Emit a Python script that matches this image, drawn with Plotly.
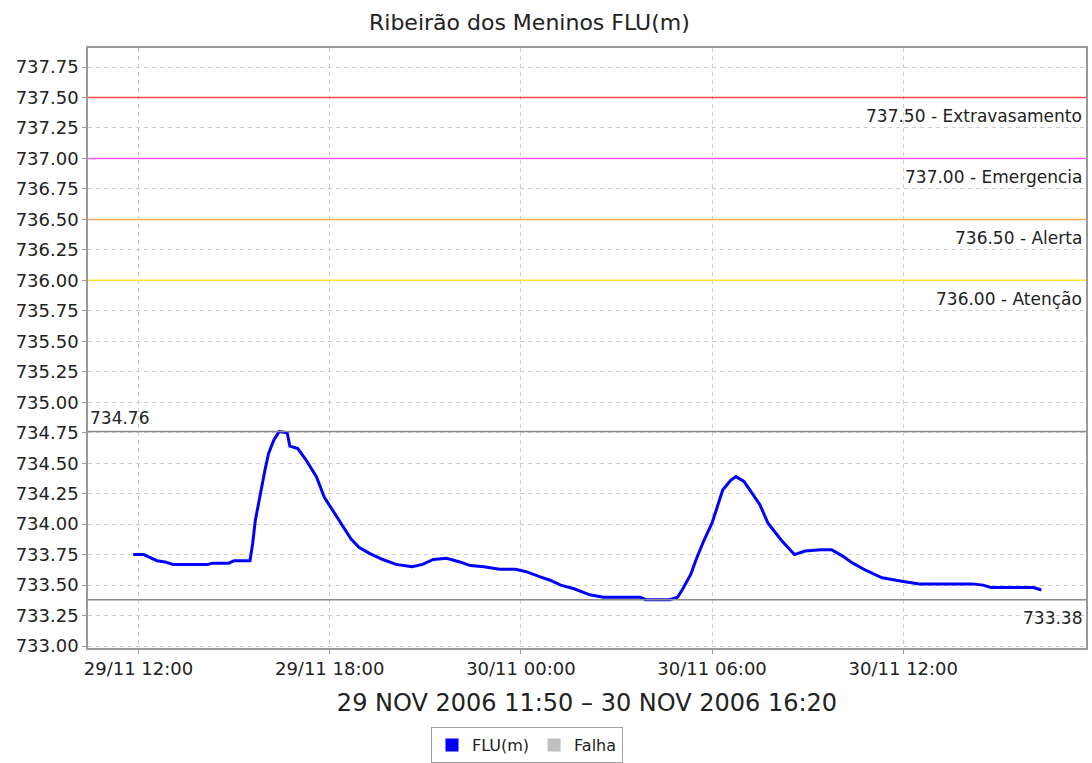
import plotly.graph_objects as go

# ---- data ----
times = [
    "2006-11-29 11:50", "2006-11-29 12:10", "2006-11-29 12:20", "2006-11-29 12:35",
    "2006-11-29 12:50", "2006-11-29 13:05", "2006-11-29 14:10", "2006-11-29 14:20",
    "2006-11-29 14:50", "2006-11-29 15:00", "2006-11-29 15:30", "2006-11-29 15:35",
    "2006-11-29 15:40", "2006-11-29 15:49", "2006-11-29 15:58", "2006-11-29 16:05",
    "2006-11-29 16:15", "2006-11-29 16:25", "2006-11-29 16:40", "2006-11-29 16:45",
    "2006-11-29 17:00", "2006-11-29 17:15", "2006-11-29 17:35", "2006-11-29 17:50",
    "2006-11-29 18:05", "2006-11-29 18:25", "2006-11-29 18:40", "2006-11-29 18:55",
    "2006-11-29 19:15", "2006-11-29 19:40", "2006-11-29 20:05", "2006-11-29 20:35",
    "2006-11-29 20:55", "2006-11-29 21:15", "2006-11-29 21:40", "2006-11-29 22:05",
    "2006-11-29 22:25", "2006-11-29 22:50", "2006-11-29 23:20", "2006-11-29 23:50",
    "2006-11-30 00:10", "2006-11-30 00:35", "2006-11-30 00:55", "2006-11-30 01:15",
    "2006-11-30 01:40", "2006-11-30 02:10", "2006-11-30 02:35", "2006-11-30 03:45",
    "2006-11-30 03:55", "2006-11-30 04:40", "2006-11-30 04:55", "2006-11-30 05:05",
    "2006-11-30 05:20", "2006-11-30 05:30", "2006-11-30 05:45", "2006-11-30 06:00",
    "2006-11-30 06:10", "2006-11-30 06:20", "2006-11-30 06:35", "2006-11-30 06:45",
    "2006-11-30 07:00", "2006-11-30 07:15", "2006-11-30 07:30", "2006-11-30 07:45",
    "2006-11-30 08:10", "2006-11-30 08:35", "2006-11-30 08:55", "2006-11-30 09:25",
    "2006-11-30 09:45", "2006-11-30 10:05", "2006-11-30 10:25", "2006-11-30 10:50",
    "2006-11-30 11:20", "2006-11-30 12:00", "2006-11-30 12:30", "2006-11-30 14:10",
    "2006-11-30 14:30", "2006-11-30 14:45", "2006-11-30 16:05", "2006-11-30 16:20",
]
flu = [
    733.75, 733.75, 733.73, 733.70,
    733.69, 733.67, 733.67, 733.68,
    733.68, 733.70, 733.70, 733.84,
    734.03, 734.25, 734.44, 734.58,
    734.69, 734.76, 734.75, 734.64,
    734.62, 734.53, 734.39, 734.22,
    734.12, 733.98, 733.88, 733.81,
    733.76, 733.71, 733.67, 733.65,
    733.67, 733.71, 733.72, 733.69,
    733.66, 733.65, 733.63, 733.63,
    733.61, 733.57, 733.54, 733.50,
    733.47, 733.42, 733.40, 733.40,
    733.38, 733.38, 733.40, 733.47,
    733.59, 733.71, 733.87, 734.01,
    734.14, 734.28, 734.36, 734.39,
    734.35, 734.25, 734.16, 734.01,
    733.87, 733.75, 733.78, 733.79,
    733.79, 733.74, 733.68, 733.62,
    733.56, 733.53, 733.51, 733.51,
    733.50, 733.48, 733.48, 733.46,
]

level_values = [737.50, 737.00, 736.50, 736.00]
level_names = ["Extravasamento", "Emergencia", "Alerta", "Atenção"]
level_colors = ["#ff4a4a", "#ff55ff", "#ffa860", "#ffe030"]

max_value = 734.76
min_value = 733.38

title_text = "Ribeirão dos Meninos FLU(m)"
xaxis_title = "29 NOV 2006 11:50 \u2013 30 NOV 2006 16:20"
legend_names = ["FLU(m)", "Falha"]
legend_colors = ["#0000ff", "#c0c0c0"]

FONT = "DejaVu Sans"
TXT = "#222222"

fig = go.Figure()

fig.add_trace(go.Scatter(
    x=times, y=flu, mode="lines",
    line=dict(color="#0000ff", width=3),
    showlegend=False, hoverinfo="x+y",
))

for name, col in zip(legend_names, legend_colors):
    fig.add_trace(go.Scatter(
        x=[None], y=[None], mode="markers", name=name,
        marker=dict(symbol="square", size=13, color=col),
    ))

shapes = []
annotations = []
for v, n, c in zip(level_values, level_names, level_colors):
    shapes.append(dict(type="line", xref="paper", x0=0, x1=1, yref="y", y0=v, y1=v,
                       line=dict(color=c, width=1.5)))
    annotations.append(dict(xref="paper", x=1, xanchor="right", xshift=-2,
                            yref="y", y=v, yanchor="top", yshift=-7,
                            text=f"{v:.2f} - {n}", showarrow=False,
                            font=dict(family=FONT, size=17, color=TXT)))

for v in [max_value, min_value]:
    shapes.append(dict(type="line", xref="paper", x0=0, x1=1, yref="y", y0=v, y1=v,
                       line=dict(color="#8c8c8c", width=1.5)))

annotations.append(dict(xref="paper", x=0, xanchor="left", xshift=0,
                        yref="y", y=max_value, yanchor="bottom", yshift=2,
                        text=f"{max_value:.2f}", showarrow=False,
                        font=dict(family=FONT, size=17, color=TXT)))
annotations.append(dict(xref="paper", x=1, xanchor="right", xshift=-2,
                        yref="y", y=min_value, yanchor="top", yshift=-6,
                        text=f"{min_value:.2f}", showarrow=False,
                        font=dict(family=FONT, size=17, color=TXT)))

annotations.append(dict(xref="paper", yref="paper", x=(529 - 88) / 998, y=1,
                        xanchor="center", yanchor="bottom", yshift=11,
                        text=title_text, showarrow=False,
                        font=dict(family=FONT, size=22, color=TXT)))

fig.update_layout(
    width=1092, height=763,
    margin=dict(l=88, r=6, t=48, b=115, autoexpand=False),
    paper_bgcolor="white", plot_bgcolor="white",
    font=dict(family=FONT, size=16, color=TXT),
    shapes=shapes, annotations=annotations,
    showlegend=True,
    legend=dict(orientation="h", x=(527 - 88) / 998, xanchor="center",
                y=-0.192, yanchor="bottom",
                bordercolor="#a0a0a0", borderwidth=1,
                font=dict(family=FONT, size=16, color=TXT),
                itemwidth=30, tracegroupgap=0),
)

fig.update_xaxes(
    type="date",
    range=["2006-11-29 10:25", "2006-11-30 17:44"],
    tick0="2006-11-29 00:00", dtick=6 * 3600 * 1000,
    tickformat="%d/%m %H:%M",
    tickfont=dict(family=FONT, size=18, color=TXT),
    showgrid=True, gridcolor="#cfcfcf", griddash="4px,4px", gridwidth=1,
    showline=True, linecolor="#999999", linewidth=1.5, mirror=True,
    ticks="outside", ticklen=4, tickcolor="#999999",
    title=dict(text=xaxis_title, standoff=16,
               font=dict(family=FONT, size=24, color=TXT)),
    zeroline=False,
)
fig.update_yaxes(
    range=[732.984, 737.906],
    tick0=733.0, dtick=0.25, tickformat=".2f",
    tickfont=dict(family=FONT, size=18, color=TXT),
    showgrid=True, gridcolor="#cfcfcf", griddash="4px,4px", gridwidth=1,
    showline=True, linecolor="#999999", linewidth=1.5, mirror=True,
    ticks="outside", ticklen=4, tickcolor="#999999",
    zeroline=False,
)

fig.write_html("out.html", config={"displayModeBar": False},
               post_script="document.body.style.margin='0px';")
